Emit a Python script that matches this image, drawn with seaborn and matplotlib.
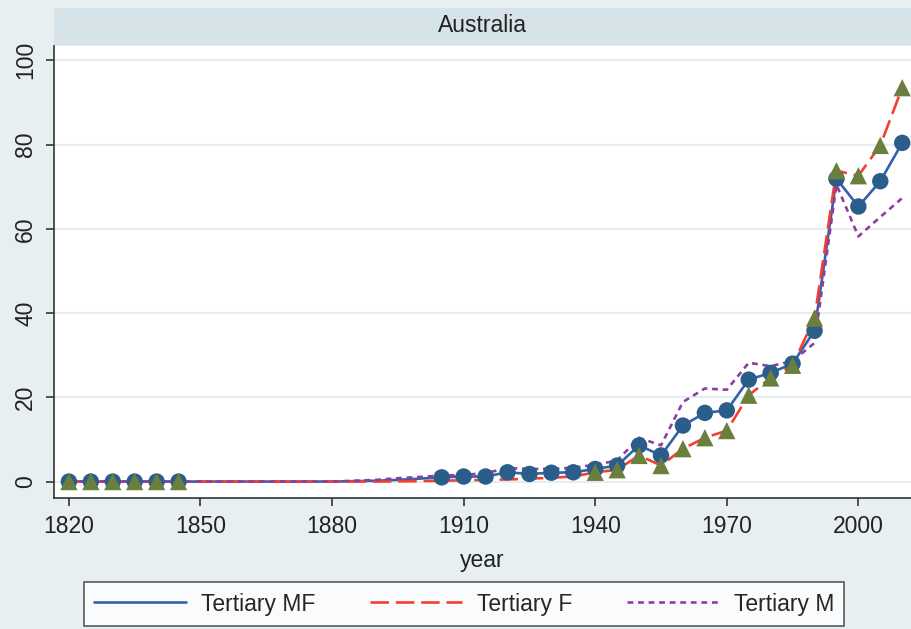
import numpy as np
import pandas as pd
import matplotlib
matplotlib.use("Agg")
import matplotlib.pyplot as plt
from matplotlib.patches import Rectangle
import seaborn as sns

sns.set_style("white")
plt.rcParams['font.family'] = ['Liberation Sans', 'DejaVu Sans']

# interpolated series, every 5 years 1820-2010
years = list(range(1820, 2011, 5))
mf_line = [0, 0, 0, 0, 0, 0,
           0, 0, 0, 0, 0, 0, 0, 0.1, 0.2, 0.4, 0.7,
           1.0, 1.2, 1.2, 2.2, 1.8, 2.1, 2.2, 3.0, 3.8,
           8.6, 6.2, 13.3, 16.3, 16.9, 24.2, 25.8, 28.0, 35.8,
           71.9, 65.3, 71.3, 80.4]
f_line = [0, 0, 0, 0, 0, 0,
          0, 0, 0, 0, 0, 0, 0, 0, 0, 0.05, 0.1,
          0.2, 0.3, 0.4, 0.5, 0.7, 0.9, 1.2, 2.2, 2.8,
          6.2, 3.8, 7.8, 10.4, 12.1, 20.5, 24.6, 27.6, 38.8,
          73.8, 72.6, 79.8, 93.5]
m_line = [0, 0, 0, 0, 0, 0,
          0, 0, 0, 0, 0, 0, 0, 0.2, 0.4, 0.8, 1.1,
          1.4, 1.6, 2.0, 3.2, 3.0, 3.0, 3.3, 4.0, 5.0,
          10.4, 8.6, 18.9, 22.1, 21.8, 28.2, 27.4, 28.6, 32.9,
          70.5, 58.2, 62.8, 67.3]

# years with observed data (markers)
mf_obs_years = [1820, 1825, 1830, 1835, 1840, 1845] + list(range(1905, 2011, 5))
f_obs_years = [1820, 1825, 1830, 1835, 1840, 1845] + list(range(1940, 2011, 5))

series_names = ["Tertiary MF", "Tertiary F", "Tertiary M"]

df = pd.DataFrame({"year": years, "Tertiary MF": mf_line,
                   "Tertiary F": f_line, "Tertiary M": m_line})
long = df.melt(id_vars="year", var_name="series", value_name="value")

mf_obs = df[df.year.isin(mf_obs_years)]
f_obs = df[df.year.isin(f_obs_years)]

bg = "#e8eff1"
strip_col = "#d6e3e9"
palette = {"Tertiary MF": "#3362ad", "Tertiary F": "#f2402f", "Tertiary M": "#8e3f9e"}
dashes = {"Tertiary MF": "", "Tertiary F": (7, 2.6), "Tertiary M": (2.2, 1.8)}

fig = plt.figure(figsize=(9.11, 6.29), dpi=100, facecolor=bg)
ax = fig.add_axes([54 / 911, 1 - 498 / 629, 1 - 54 / 911, (498 - 46) / 629])
ax.set_facecolor("white")

sns.lineplot(data=long, x="year", y="value", hue="series", style="series",
             palette=palette, dashes=dashes, linewidth=1.9, ax=ax,
             hue_order=series_names, style_order=series_names, legend=False,
             zorder=3)
sns.scatterplot(data=mf_obs, x="year", y="Tertiary MF", ax=ax, marker="o",
                s=140, color="#2b5d8b", edgecolor="none", zorder=4, legend=False)
sns.scatterplot(data=f_obs, x="year", y="Tertiary F", ax=ax, marker="^",
                s=155, color="#6a7e3d", edgecolor="none", zorder=5, legend=False)

ax.set_xlim(1816.6, 2012)
ax.set_ylim(-3.9, 103.4)
ax.set_xticks([1820, 1850, 1880, 1910, 1940, 1970, 2000])
ax.set_yticks([0, 20, 40, 60, 80, 100])
ax.yaxis.grid(True, color="#e6edf0", linewidth=1.5)
ax.set_axisbelow(True)
for s in ["top", "right"]:
    ax.spines[s].set_visible(False)
for s in ["left", "bottom"]:
    ax.spines[s].set_color("#333333")
    ax.spines[s].set_linewidth(1.2)
ax.tick_params(axis="both", which="both", direction="out", length=6, width=1.2,
               color="#333333", labelsize=16.5, labelcolor="#222222", pad=6,
               bottom=True, left=True)
plt.setp(ax.get_yticklabels(), rotation=90, va="center")
ax.set_xlabel("year", fontsize=16.5, color="#222222", labelpad=8)
ax.set_ylabel("")

# facet strip
fig.patches.append(Rectangle((54 / 911, 1 - 45 / 629), 1 - 54 / 911, 37 / 629,
                             transform=fig.transFigure, facecolor=strip_col,
                             edgecolor="none"))
fig.text((54 / 911 + 1) / 2, 1 - 26 / 629, "Australia", ha="center", va="center",
         fontsize=16.5, color="#222222")

handles = [plt.Line2D([], [], color=palette[n], linewidth=1.9,
                      linestyle=(0, dashes[n]) if dashes[n] else "-")
           for n in series_names]
leg = fig.legend(handles, series_names, loc="center", ncol=3,
                 bbox_to_anchor=(464 / 911, 1 - 604 / 629), fontsize=16.5,
                 frameon=True, fancybox=False, handlelength=4.0,
                 columnspacing=2.4, handletextpad=0.65, borderpad=0.45)
leg.get_frame().set_edgecolor("#333333")
leg.get_frame().set_linewidth(1.2)
leg.get_frame().set_facecolor("white")

fig.savefig("out.png", dpi=100, facecolor=bg)
